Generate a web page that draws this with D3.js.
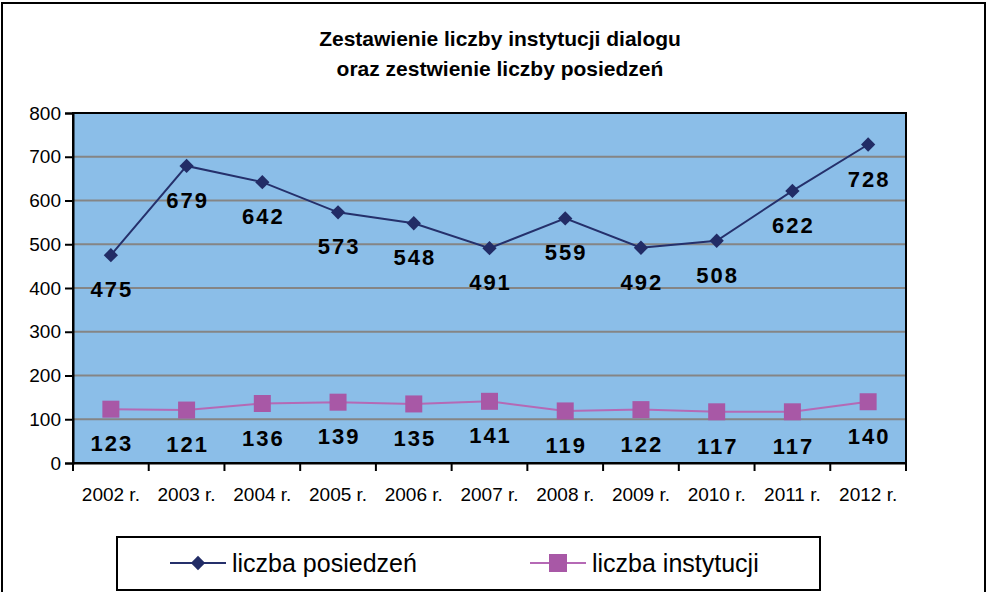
<!DOCTYPE html>
<html>
<head>
<meta charset="utf-8">
<script src="https://cdn.jsdelivr.net/npm/d3@7"></script>
<style>
  body { margin: 0; background: #fff; }
  svg text { font-family: "Liberation Sans", Arial, sans-serif; }
</style>
</head>
<body>
<div class="chart-container"></div>
<script>
// Chart data
const years = ["2002 r.", "2003 r.", "2004 r.", "2005 r.", "2006 r.", "2007 r.", "2008 r.", "2009 r.", "2010 r.", "2011 r.", "2012 r."];
const posiedzenia = [475, 679, 642, 573, 548, 491, 559, 492, 508, 622, 728];
const instytucje = [123, 121, 136, 139, 135, 141, 119, 122, 117, 117, 140];
const yTicks = [0, 100, 200, 300, 400, 500, 600, 700, 800];
const titleLines = ["Zestawienie liczby instytucji dialogu", "oraz zestwienie liczby posiedzeń"];
const seriesNames = ["liczba posiedzeń", "liczba instytucji"];

function drawChart() {
    const W = 988, H = 592;
    const margin = {top: 113, right: 82, bottom: 129, left: 73},
        width = W - margin.left - margin.right,
        height = H - margin.top - margin.bottom;

    const root = d3.select(".chart-container")
        .append("svg")
        .attr("width", W)
        .attr("height", H);

    // outer frame
    root.append("rect")
        .attr("x", 2).attr("y", 3)
        .attr("width", W - 5).attr("height", H + 10)
        .attr("fill", "#fff")
        .attr("stroke", "#000")
        .attr("stroke-width", 2);

    // title
    root.append("g").selectAll("text")
        .data(titleLines)
        .enter()
        .append("text")
        .attr("x", 500)
        .attr("y", (d, i) => 46 + i * 30)
        .attr("text-anchor", "middle")
        .attr("font-size", 21)
        .attr("font-weight", "bold")
        .text(d => d);

    const svg = root.append("g")
        .attr("transform", `translate(${margin.left},${margin.top})`);

    const xScale = d3.scaleBand()
        .domain(years)
        .range([0, width]);

    const yScale = d3.scaleLinear()
        .domain([0, 800])
        .range([height, 0]);

    // plot background
    svg.append("rect")
        .attr("width", width)
        .attr("height", height)
        .attr("fill", "#8bbee8");

    // gridlines
    svg.selectAll(".grid")
        .data(yTicks.filter(d => d > 0 && d < 800))
        .enter()
        .append("line")
        .attr("class", "grid")
        .attr("x1", 0).attr("x2", width)
        .attr("y1", d => yScale(d)).attr("y2", d => yScale(d))
        .attr("stroke", "#858585")
        .attr("stroke-width", 2);

    // plot border
    svg.append("rect")
        .attr("width", width)
        .attr("height", height)
        .attr("fill", "none")
        .attr("stroke", "#000")
        .attr("stroke-width", 2);

    // y axis
    const yAxis = svg.append("g")
        .call(d3.axisLeft(yScale).tickValues(yTicks).tickSize(8).tickPadding(4));
    yAxis.select(".domain").attr("stroke-width", 2);
    yAxis.selectAll(".tick line").attr("stroke-width", 2);
    yAxis.selectAll("text").attr("font-size", 19).attr("font-family", "Liberation Sans, Arial, sans-serif");

    // x axis, ticks on band edges
    const xAxis = svg.append("g")
        .attr("transform", `translate(0, ${height})`)
        .call(d3.axisBottom(xScale).tickSize(0).tickPadding(25));
    xAxis.select(".domain").attr("stroke-width", 2);
    xAxis.selectAll("text").attr("font-size", 19).attr("font-family", "Liberation Sans, Arial, sans-serif");
    xAxis.selectAll(".edge")
        .data(years.concat(["end"]))
        .enter()
        .append("line")
        .attr("class", "edge")
        .attr("x1", (d, i) => i < years.length ? xScale(d) : width)
        .attr("x2", (d, i) => i < years.length ? xScale(d) : width)
        .attr("y1", 0).attr("y2", 8)
        .attr("stroke", "#000")
        .attr("stroke-width", 2);

    const cx = d => xScale(d) + xScale.bandwidth() / 2;
    const line = d3.line()
        .x(d => cx(d.year))
        .y(d => yScale(d.value));

    const s1 = years.map((y, i) => ({year: y, value: posiedzenia[i]}));
    const s2 = years.map((y, i) => ({year: y, value: instytucje[i]}));

    // instytucje series
    svg.append("path")
        .datum(s2)
        .attr("d", line)
        .attr("fill", "none")
        .attr("stroke", "#b569b5")
        .attr("stroke-width", 2);
    svg.selectAll(".sq")
        .data(s2)
        .enter()
        .append("rect")
        .attr("class", "sq")
        .attr("x", d => cx(d.year) - 8.5)
        .attr("y", d => yScale(d.value) - 8.5)
        .attr("width", 17).attr("height", 17)
        .attr("fill", "#a858a6");

    // posiedzenia series
    svg.append("path")
        .datum(s1)
        .attr("d", line)
        .attr("fill", "none")
        .attr("stroke", "#25306b")
        .attr("stroke-width", 2);
    svg.selectAll(".dia")
        .data(s1)
        .enter()
        .append("path")
        .attr("class", "dia")
        .attr("d", d3.symbol().type(d3.symbolDiamond2).size(130))
        .attr("transform", d => `translate(${cx(d.year)},${yScale(d.value)})`)
        .attr("fill", "#222c66");

    // data labels
    const labels = s1.concat(s2);
    svg.selectAll(".lbl")
        .data(labels)
        .enter()
        .append("text")
        .attr("class", "lbl")
        .attr("x", d => cx(d.year) + 1)
        .attr("y", d => yScale(d.value) + 42)
        .attr("text-anchor", "middle")
        .attr("font-size", 22)
        .attr("font-weight", "bold")
        .attr("letter-spacing", 2)
        .text(d => d.value);

    // legend
    const lg = root.append("g");
    lg.append("rect")
        .attr("x", 117).attr("y", 537)
        .attr("width", 703).attr("height", 53)
        .attr("fill", "#fff")
        .attr("stroke", "#000")
        .attr("stroke-width", 2);
    const items = [
        {name: seriesNames[0], x: 170, color: "#25306b", mark: "#222c66", shape: "diamond"},
        {name: seriesNames[1], x: 530, color: "#b569b5", mark: "#a858a6", shape: "square"}
    ];
    items.forEach(it => {
        const g = lg.append("g").attr("transform", `translate(${it.x},563)`);
        g.append("line").attr("x1", 0).attr("x2", 56).attr("stroke", it.color).attr("stroke-width", 2);
        if (it.shape === "diamond") {
            g.append("path")
                .attr("d", d3.symbol().type(d3.symbolDiamond2).size(130))
                .attr("transform", "translate(28,0)")
                .attr("fill", it.mark);
        } else {
            g.append("rect").attr("x", 19).attr("y", -9).attr("width", 18).attr("height", 18).attr("fill", it.mark);
        }
        g.append("text")
            .attr("x", 62).attr("y", 9)
            .attr("font-size", 25)
            .text(it.name);
    });
}

drawChart();
</script>
</body>
</html>
